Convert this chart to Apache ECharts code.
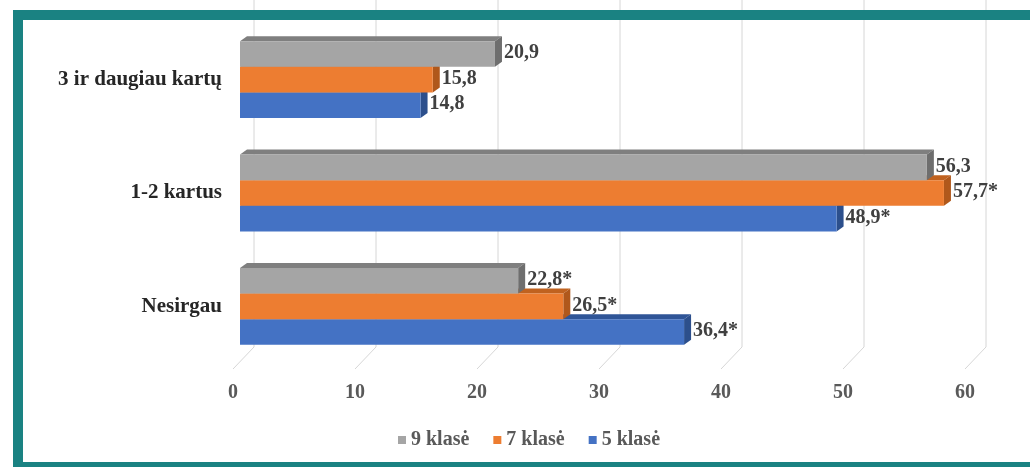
<!DOCTYPE html>
<html>
<head>
<meta charset="utf-8">
<script src="https://cdn.jsdelivr.net/npm/echarts@6/dist/echarts.min.js"></script>
<style>
  html, body { margin: 0; padding: 0; background: #fff; }
  #wrap { position: relative; width: 1030px; height: 467px; overflow: hidden; }
  #chart { position: absolute; left: 0; top: 0; width: 1030px; height: 467px; }
  /* teal picture frame */
  .frame {
    position: absolute; left: 13px; top: 10px; width: 1040px; height: 442px;
    border: 10px solid #1a8282; border-right: none; pointer-events: none;
  }
</style>
</head>
<body>
<div id="wrap">
  <div id="chart"></div>
  <div class="frame"></div>
</div>
<script>
// categories bottom -> top
const categories = ["Nesirgau", "1-2 kartus", "3 ir daugiau kartų"];
const ticks = [0, 10, 20, 30, 40, 50, 60];

const klase5 = [36.4, 48.9, 14.8];
const klase7 = [26.5, 57.7, 15.8];
const klase9 = [22.8, 56.3, 20.9];
// significance marks shown after the value
const stars5 = ["*", "*", ""];
const stars7 = ["*", "*", ""];
const stars9 = ["*", "", ""];

const FONT = '"Liberation Serif", "DejaVu Serif", serif';
const DX = 7, DY = 5; // 3d depth

// k: 0 = bottom bar (5 klase), 1 = middle, 2 = top
function makeRender(k, face, top, side, stars) {
  return function (params, api) {
    const v = api.value(0);
    const ci = api.value(1);
    const start = api.coord([0, ci]);
    const end = api.coord([v, ci]);
    const band = api.size([0, 1])[1];
    const h = band * 0.226;
    const cy = start[1] + (1 - k) * h;
    const y0 = cy - h / 2, y1 = cy + h / 2;
    const x0 = start[0], x1 = end[0];
    const txt = v.toFixed(1).replace(".", ",") + stars[params.dataIndex];
    return {
      type: "group",
      children: [
        { type: "polygon", shape: { points: [[x0, y0], [x1, y0], [x1 + DX, y0 - DY], [x0 + DX, y0 - DY]] }, style: { fill: top } },
        { type: "polygon", shape: { points: [[x1, y0], [x1 + DX, y0 - DY], [x1 + DX, y1 - DY], [x1, y1]] }, style: { fill: side } },
        { type: "rect", shape: { x: x0, y: y0, width: x1 - x0, height: y1 - y0 }, style: { fill: face } },
        { type: "text", x: x1 + 9, y: cy - 1, style: { text: txt, fill: "#404040", font: "bold 20px " + FONT, textVerticalAlign: "middle", textAlign: "left" } }
      ]
    };
  };
}

function gridRender(params, api) {
  const cs = params.coordSys;
  const x = api.coord([api.value(0), 0])[0];
  const bottom = cs.y + cs.height;
  return {
    type: "polyline",
    shape: { points: [[x + 14, 0], [x + 14, bottom - 16], [x - 7, bottom + 6]] },
    style: { stroke: "#d6d6d6", lineWidth: 1, fill: null }
  };
}

const toData = arr => arr.map((v, i) => [v, i]);

const chart = echarts.init(document.getElementById("chart"));
chart.setOption({
  animation: false,
  textStyle: { fontFamily: FONT },
  grid: { left: 240, right: 58, top: 23, bottom: 104, containLabel: false, outerBoundsMode: "none" },
  legend: {
    data: ["9 klasė", "7 klasė", "5 klasė"],
    bottom: 12,
    left: 393,
    icon: "rect",
    itemWidth: 8,
    itemHeight: 8,
    itemGap: 24,
    textStyle: { fontFamily: FONT, fontSize: 20, fontWeight: "bold", color: "#595959", padding: [0, 0, 0, 0] }
  },
  xAxis: {
    type: "value",
    min: 0,
    max: 60,
    interval: 10,
    axisLine: { show: false },
    axisTick: { show: false },
    splitLine: { show: false },
    axisLabel: { margin: 20, color: "#595959", fontSize: 20, fontWeight: "bold", fontFamily: FONT, padding: [0, 14, 0, 0] }
  },
  yAxis: {
    type: "category",
    data: categories,
    axisLine: { show: false },
    axisTick: { show: false },
    axisLabel: { margin: 18, color: "#262626", fontSize: 21, fontWeight: "bold", fontFamily: FONT }
  },
  series: [
    { name: "grid", type: "custom", renderItem: gridRender, data: ticks.map(t => [t, 0]), encode: { x: 0, y: 1 }, silent: true, z: 1 },
    { name: "5 klasė", type: "custom", itemStyle: { color: "#4472c4" }, renderItem: makeRender(0, "#4472c4", "#2f5597", "#2c4f8c", stars5), data: toData(klase5), encode: { x: 0, y: 1 }, z: 2 },
    { name: "7 klasė", type: "custom", itemStyle: { color: "#ed7d31" }, renderItem: makeRender(1, "#ed7d31", "#c0621f", "#b0581b", stars7), data: toData(klase7), encode: { x: 0, y: 1 }, z: 3 },
    { name: "9 klasė", type: "custom", itemStyle: { color: "#a5a5a5" }, renderItem: makeRender(2, "#a5a5a5", "#7f7f7f", "#6e6e6e", stars9), data: toData(klase9), encode: { x: 0, y: 1 }, z: 4 }
  ]
});
window.addEventListener("resize", () => chart.resize());
</script>
</body>
</html>
